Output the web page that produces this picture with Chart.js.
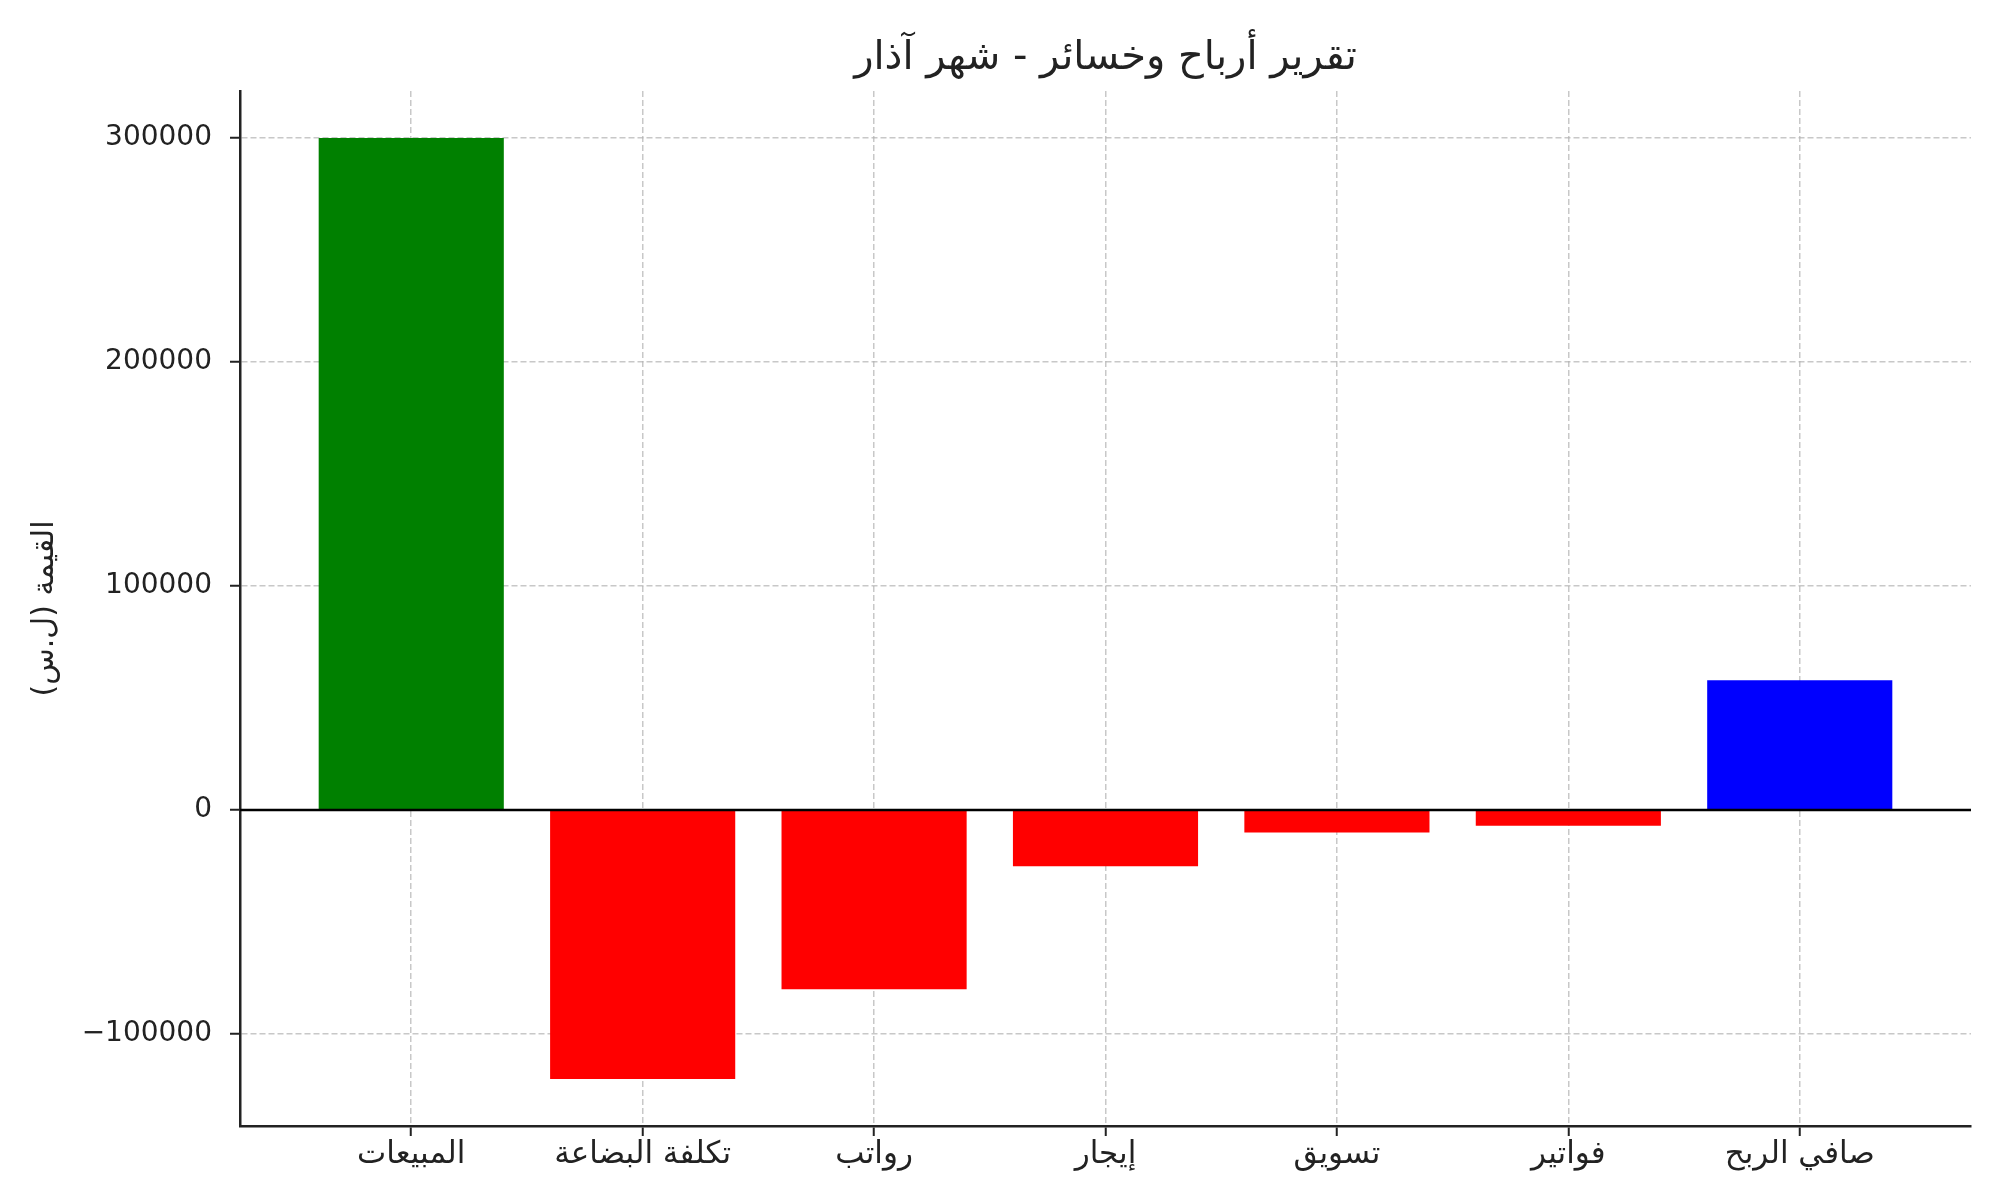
<!DOCTYPE html>
<html>
<head>
<meta charset="utf-8">
<script src="https://cdn.jsdelivr.net/npm/chart.js@4"></script>
<style>
  body { margin: 0; background: #fff; }
  canvas { display: block; }
</style>
</head>
<body>
<canvas id="plChart" width="2000" height="1200"></canvas>
<script>
// بيانات التقرير
var categories = ["المبيعات", "تكلفة البضاعة", "رواتب", "إيجار", "تسويق", "فواتير", "صافي الربح"]
var values = [300000, -120000, -80000, -25000, -10000, -7000, 58000]
var barColors = ["green", "red", "red", "red", "red", "red", "blue"]
var yTicks = [-100000, 0, 100000, 200000, 300000]

var fontFamily = "'DejaVu Sans', sans-serif"

// خط الصفر الأسود
var zeroLine = {
  id: "zeroLine",
  afterDatasetsDraw: function (chart) {
    var ctx = chart.ctx
    var y = chart.scales.y.getPixelForValue(0)
    ctx.save()
    ctx.strokeStyle = "#000"
    ctx.lineWidth = 2.5
    ctx.beginPath()
    ctx.moveTo(chart.chartArea.left, y)
    ctx.lineTo(chart.chartArea.right, y)
    ctx.stroke()
    ctx.restore()
  },
}

var ctx = document.getElementById("plChart").getContext("2d")
var myChart = new Chart(ctx, {
  type: "bar",
  data: {
    datasets: [
      {
        data: values.map(function (v, i) { return { x: i, y: v } }),
        backgroundColor: barColors,
        borderWidth: 0,
        barPercentage: 0.8,
        categoryPercentage: 1,
      },
    ],
  },
  options: {
    responsive: false,
    animation: false,
    layout: { padding: { left: 0, right: 29, top: 0, bottom: 0 } },
    plugins: {
      legend: { display: false },
      tooltip: { enabled: false },
      title: {
        display: true,
        fullSize: false,
        text: "تقرير أرباح وخسائر - شهر آذار",
        color: "#222",
        font: { family: fontFamily, size: 40, weight: "normal", lineHeight: 1.2 },
        padding: { top: 35, bottom: 8 },
      },
    },
    scales: {
      x: {
        type: "linear",
        offset: false,
        min: -0.74,
        max: 6.74,
        afterBuildTicks: function (scale) {
          scale.ticks = categories.map(function (c, i) { return { value: i } })
        },
        afterFit: function (scale) { scale.height = 74 },
        ticks: {
          autoSkip: false,
          maxRotation: 0,
          padding: 0,
          color: "#222",
          font: { family: fontFamily, size: 31 },
          callback: function (v) { return categories[v] },
        },
        grid: {
          offset: false,
          color: "rgba(176,176,176,0.7)",
          lineWidth: 1.5,
          tickLength: 10,
          tickColor: "#222",
          tickWidth: 2,
        },
        border: { display: true, color: "#222", width: 2.5, dash: [6, 3] },
      },
      y: {
        min: -141000,
        max: 321000,
        afterBuildTicks: function (scale) {
          scale.ticks = yTicks.map(function (v) { return { value: v } })
        },
        afterFit: function (scale) { scale.width = 240 },
        ticks: {
          padding: 18,
          color: "#222",
          font: { family: fontFamily, size: 28 },
          callback: function (v) { return v < 0 ? "\u2212" + Math.abs(v) : String(v) },
        },
        grid: {
          color: "rgba(176,176,176,0.7)",
          lineWidth: 1.5,
          tickLength: 10,
          tickColor: "#222",
          tickWidth: 2,
        },
        border: { display: true, color: "#222", width: 2.5, dash: [6, 3] },
        title: {
          display: true,
          text: "القيمة (ل.س)",
          color: "#222",
          font: { family: fontFamily, size: 30, lineHeight: 1.2 },
          padding: { top: 27, bottom: 0 },
        },
      },
    },
  },
  plugins: [zeroLine],
})
</script>
</body>
</html>
